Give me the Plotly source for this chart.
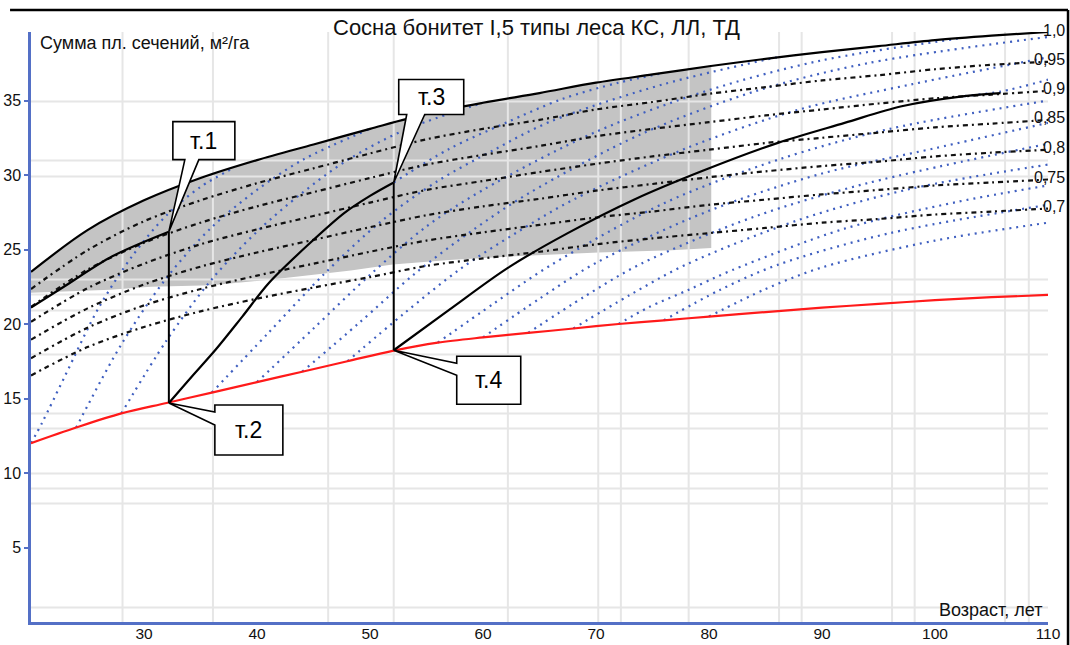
import plotly.graph_objects as go

# ---------------- axes ----------------
AGE_RANGE = [20, 110]
BA_RANGE = [0, 39.6]
age_ticks = [30, 40, 50, 60, 70, 80, 90, 100, 110]
ba_ticks = [5, 10, 15, 20, 25, 30, 35]

# irregular grid (data units)
grid_age = [28.1, 36.1, 46.3, 52.1, 62.2, 70.2, 72.2, 78.2, 86.2, 88.2, 96.2, 98.2, 106.2, 108.3]
grid_ba = [0.97, 7.95, 8.96, 9.97, 12.99, 13.99, 17.95, 20.91, 21.98, 22.99, 29.9, 30.97, 34.93]

# ---------------- density (полнота) lines ----------------
ages = [20, 25, 30, 35, 40, 45, 50, 55, 60, 65, 70, 75, 80, 85, 90, 95, 100, 105, 110]
dens_100 = [23.5, 26.3, 28.3, 29.8, 31.0, 32.05, 33.1, 34.1, 34.85, 35.5, 36.2, 36.75, 37.3, 37.8, 38.25, 38.65, 39.05, 39.35, 39.6]
dens_095 = [22.35, 24.95, 26.9, 28.3, 29.45, 30.45, 31.45, 32.4, 33.1, 33.7, 34.4, 34.9, 35.45, 35.9, 36.35, 36.7, 37.1, 37.4, 37.6]
dens_090 = [21.15, 23.65, 25.45, 26.8, 27.9, 28.85, 29.8, 30.7, 31.35, 31.95, 32.6, 33.1, 33.55, 34.0, 34.4, 34.8, 35.15, 35.4, 35.65]
dens_085 = [20.15, 22.4, 24.05, 25.35, 26.35, 27.25, 28.15, 29.0, 29.6, 30.2, 30.75, 31.25, 31.7, 32.15, 32.5, 32.85, 33.2, 33.45, 33.7]
dens_080 = [18.95, 21.05, 22.65, 23.85, 24.8, 25.65, 26.5, 27.3, 27.9, 28.4, 28.95, 29.4, 29.85, 30.25, 30.6, 30.9, 31.25, 31.5, 31.7]
dens_075 = [17.7, 19.75, 21.25, 22.35, 23.25, 24.05, 24.85, 25.6, 26.15, 26.65, 27.15, 27.55, 28.0, 28.35, 28.7, 29.0, 29.3, 29.5, 29.7]
dens_070 = [16.55, 18.45, 19.8, 20.85, 21.7, 22.45, 23.15, 23.9, 24.4, 24.85, 25.35, 25.75, 26.1, 26.45, 26.8, 27.05, 27.35, 27.55, 27.75]
density_labels = ["1,0", "0,95", "0,9", "0,85", "0,8", "0,75", "0,7"]

# ---------------- lower (red) line ----------------
red_age = [20, 24, 28, 32, 36, 40, 44, 48, 52, 56, 60, 64, 68, 72, 76, 80, 85, 90, 95, 100, 105, 110]
red_ba = [12.0, 13.05, 14.0, 14.7, 15.4, 16.1, 16.8, 17.5, 18.2, 18.75, 19.1, 19.4, 19.7, 20.0, 20.25, 20.5, 20.8, 21.1, 21.35, 21.6, 21.8, 21.95]

# ---------------- grey zone ----------------
zone_top_age = [20, 25, 30, 35, 40, 45, 50, 55, 60, 65, 70, 75, 80.2]
zone_top_ba = [23.5, 26.3, 28.3, 29.8, 31.0, 32.05, 33.1, 34.1, 34.85, 35.5, 36.2, 36.75, 37.3]
zone_low_age = [20, 27, 30.6, 36, 41.5, 48.3, 52, 57, 62.8, 70.2, 76.7, 80.2]
zone_low_ba = [22.1, 22.3, 22.5, 22.6, 23.0, 23.6, 24.0, 24.3, 24.55, 24.8, 24.95, 25.1]

# ---------------- thinning path ----------------
seg_a_age = [20, 22.8, 27.2, 32.2]
seg_a_ba = [21.1, 22.45, 24.55, 26.2]
traj1_age = [32.2, 34.2, 36.35, 38.7, 41.07, 44.5, 47.74, 50.0, 52.1]
traj1_ba = [14.7, 16.45, 18.29, 20.5, 22.77, 25.3, 27.46, 28.6, 29.5]
traj2_age = [52.1, 57.0, 62.2, 67.5, 73.4, 79.5, 86.1, 92.0, 97.05, 102.6, 105.8]
traj2_ba = [18.24, 20.95, 23.77, 26.1, 28.36, 30.3, 32.16, 33.5, 34.62, 35.3, 35.5]
point_names = ["т.1", "т.2", "т.3", "т.4"]
point_age = [32.2, 32.2, 52.1, 52.1]
point_ba = [26.2, 14.7, 29.5, 18.24]

# ---------------- growth curves (blue) ----------------
blue_20_age = [20, 21, 23, 26, 29, 32, 35, 38]
blue_20_ba = [12.0, 13.4, 16.5, 21.1, 24.6, 27.3, 29.2, 30.5]
blue_24_age = [24, 28, 32, 36, 40, 44, 50]
blue_24_ba = [13.05, 18.64, 23.1, 26.5, 29.0, 31.0, 33.1]
blue_28_age = [28, 32, 36, 40, 44, 48, 53, 60]
blue_28_ba = [14.0, 18.9, 23.0, 26.2, 28.8, 31.0, 33.0, 34.85]
blue_32_age = [52.1, 57, 62, 67, 72, 76]
blue_32_ba = [29.5, 31.75, 33.5, 35.1, 36.2, 36.85]
blue_36_age = [36, 41, 46, 51, 56, 61, 66, 76, 86]
blue_36_ba = [15.4, 19.4, 23.4, 26.9, 29.6, 31.7, 33.6, 36.1, 37.9]
blue_40_age = [40, 45, 50, 55, 60, 70, 80, 90, 102]
blue_40_ba = [16.1, 19.7, 23.3, 26.55, 29.0, 32.9, 35.7, 37.7, 39.15]
blue_44_age = [44, 49, 54, 59, 64, 74, 84, 94, 110]
blue_44_ba = [16.8, 20.05, 23.4, 26.25, 28.75, 32.75, 35.6, 37.5, 39.27]
blue_48_age = [48, 53, 58, 63, 68, 78, 88, 98, 110]
blue_48_ba = [17.5, 20.7, 23.7, 26.15, 28.35, 31.8, 34.4, 36.1, 37.9]
blue_52_age = [102.6, 105.8, 110]
blue_52_ba = [35.3, 35.6, 36.4]
blue_56_age = [56, 61, 66, 76, 86, 96, 110]
blue_56_ba = [18.75, 21.4, 23.95, 28.1, 31.0, 33.1, 35.0]
blue_60_age = [60, 65, 70, 80, 90, 100, 110]
blue_60_ba = [19.1, 21.7, 24.1, 27.6, 30.1, 31.8, 33.5]
blue_64_age = [64, 69, 74, 84, 94, 110]
blue_64_ba = [19.4, 21.85, 24.05, 27.2, 29.45, 32.1]
blue_68_age = [68, 73, 78, 88, 98, 110]
blue_68_ba = [19.7, 21.95, 24.0, 27.0, 29.1, 30.7]
blue_72_age = [72, 74.6, 78.2, 82, 92, 102, 110]
blue_72_ba = [20.0, 21.1, 22.3, 23.6, 26.4, 28.2, 29.3]
blue_76_age = [76, 81, 86, 96, 110]
blue_76_ba = [20.25, 22.3, 23.95, 26.1, 28.0]
blue_80_age = [80, 85, 90, 100, 110]
blue_80_ba = [20.5, 22.35, 23.8, 25.6, 26.8]

blue_curves = [
    (blue_20_age, blue_20_ba), (blue_24_age, blue_24_ba), (blue_28_age, blue_28_ba),
    (blue_32_age, blue_32_ba), (blue_36_age, blue_36_ba), (blue_40_age, blue_40_ba),
    (blue_44_age, blue_44_ba), (blue_48_age, blue_48_ba), (blue_52_age, blue_52_ba),
    (blue_56_age, blue_56_ba), (blue_60_age, blue_60_ba), (blue_64_age, blue_64_ba),
    (blue_68_age, blue_68_ba), (blue_72_age, blue_72_ba), (blue_76_age, blue_76_ba),
    (blue_80_age, blue_80_ba),
]

FONT = "Liberation Sans, Arial, sans-serif"
AXIS_BLUE = "#5470c6"
DOT_BLUE = "#3f5fc0"
GRID = "#e6e6e6"
TEXT = "#111111"

fig = go.Figure()


def line(x, y, color, width, dash="solid", shape="spline"):
    fig.add_trace(go.Scatter(
        x=x, y=y, mode="lines", hoverinfo="skip", showlegend=False,
        line=dict(color=color, width=width, dash=dash, shape=shape, smoothing=0.9),
    ))


for bx, by in blue_curves:
    line(bx, by, DOT_BLUE, 2.2, "2px,5px")

for dens in [dens_095, dens_090, dens_085, dens_080, dens_075, dens_070]:
    line(ages, dens, "#111111", 2.2, "5px,4px,2px,4px")

line(red_age, red_ba, "#ff1a1a", 2.2)
line(ages, dens_100, "#000000", 2.2)
line(seg_a_age, seg_a_ba, "#000000", 2.2)
line(traj1_age, traj1_ba, "#000000", 2.2)
line(traj2_age, traj2_ba, "#000000", 2.2)
# vertical drops т.1 -> т.2 and т.3 -> т.4
line(point_age[0:2], point_ba[0:2], "#000000", 2, shape="linear")
line(point_age[2:4], point_ba[2:4], "#000000", 2, shape="linear")

shapes = []

# grey zone polygon
zone_x = zone_top_age + zone_low_age[::-1]
zone_y = zone_top_ba + zone_low_ba[::-1]
zone_path = "M " + " L ".join(f"{x},{y}" for x, y in zip(zone_x, zone_y)) + " Z"
shapes.append(dict(type="path", path=zone_path, xref="x", yref="y", layer="below",
                   fillcolor="#c4c4c4", line=dict(width=0)))

# grid lines drawn over the grey zone
for gx in grid_age:
    shapes.append(dict(type="line", xref="x", yref="y", x0=gx, x1=gx, y0=BA_RANGE[0], y1=BA_RANGE[1],
                       layer="below", line=dict(color=GRID, width=2)))
for gy in grid_ba:
    shapes.append(dict(type="line", xref="x", yref="y", x0=AGE_RANGE[0], x1=AGE_RANGE[1], y0=gy, y1=gy,
                       layer="below", line=dict(color=GRID, width=2)))

# callout boxes (pixel geometry relative to each point)
callout_paths = [
    "M0,0 L16,72 L4,72 L4,110 L66,110 L66,72 L30,72 Z",
    "M0,0 L46,-9 L46,-2 L114,-2 L114,-52 L46,-52 L46,-22 Z",
    "M0,0 L13,68 L5,68 L5,103 L70,103 L70,68 L31,68 Z",
    "M0,0 L63,-13 L63,-6 L127,-6 L127,-54 L63,-54 L63,-25 Z",
]
callout_text_shift = [(35, 91), (80, -27), (37.5, 85.5), (95, -30)]
for path, px, py in zip(callout_paths, point_age, point_ba):
    shapes.append(dict(type="path", path=path, xref="x", yref="y",
                       xsizemode="pixel", ysizemode="pixel", xanchor=px, yanchor=py,
                       fillcolor="white", line=dict(color="black", width=1.6), layer="above"))

# window frame at top and right
shapes.append(dict(type="line", xref="paper", yref="paper", x0=-0.0206, x1=1.0197, y0=1.0373, y1=1.0373,
                   line=dict(color="black", width=2.5)))
shapes.append(dict(type="line", xref="paper", yref="paper", x0=1.0197, x1=1.0197, y0=1.0373, y1=-0.05,
                   line=dict(color="black", width=2.5)))

annotations = []
for name, px, py, (sx, sy) in zip(point_names, point_age, point_ba, callout_text_shift):
    annotations.append(dict(x=px, y=py, xref="x", yref="y", text=name, showarrow=False,
                            xshift=sx, yshift=sy, font=dict(family=FONT, size=23, color="black")))

density_ends = [d[-1] for d in [dens_100, dens_095, dens_090, dens_085, dens_080, dens_075, dens_070]]
for lab, yv in zip(density_labels, density_ends):
    annotations.append(dict(x=1.0185, y=yv, xref="paper", yref="y", text=lab, showarrow=False,
                            xanchor="right", yanchor="middle", yshift=2,
                            font=dict(family=FONT, size=16, color=TEXT)))

annotations.append(dict(x=0.4975, y=1.0068, xref="paper", yref="paper", showarrow=False,
                        text="Сосна бонитет I,5 типы леса КС, ЛЛ, ТД", xanchor="center", yanchor="middle",
                        font=dict(family=FONT, size=22, color=TEXT)))
annotations.append(dict(x=0.0069, y=0.981, xref="paper", yref="paper", showarrow=False,
                        text="Сумма пл. сечений, м²/га", xanchor="left", yanchor="middle",
                        font=dict(family=FONT, size=18, color=TEXT)))
annotations.append(dict(x=0.997, y=0.0203, xref="paper", yref="paper", showarrow=False,
                        text="Возраст, лет", xanchor="right", yanchor="middle",
                        font=dict(family=FONT, size=18, color=TEXT)))

fig.update_layout(
    width=1070, height=645,
    margin=dict(l=31, r=22, t=32, b=23),
    paper_bgcolor="white", plot_bgcolor="white",
    shapes=shapes, annotations=annotations,
    showlegend=False,
)
fig.update_xaxes(range=AGE_RANGE, tickvals=age_ticks, ticktext=[str(t) for t in age_ticks],
                 showgrid=False, zeroline=False, showline=True, linecolor=AXIS_BLUE, linewidth=2.5,
                 ticks="", automargin=False, ticklabelstandoff=-4,
                 tickfont=dict(family=FONT, size=15.5, color=TEXT))
fig.update_yaxes(range=BA_RANGE, tickvals=ba_ticks, ticktext=[str(t) for t in ba_ticks],
                 showgrid=False, zeroline=False, showline=True, linecolor=AXIS_BLUE, linewidth=2.5,
                 ticks="outside", ticklen=4, tickcolor=AXIS_BLUE, tickwidth=1.5, automargin=False,
                 tickfont=dict(family=FONT, size=16, color=TEXT))

fig.write_html("out.html")
